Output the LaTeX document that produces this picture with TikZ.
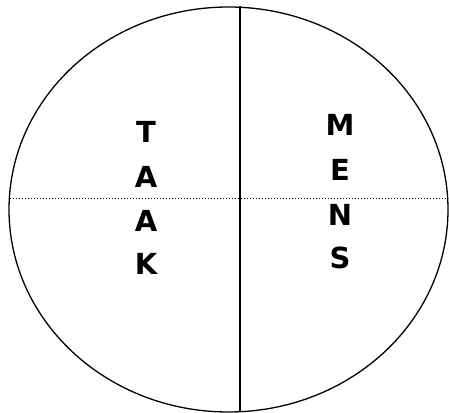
\documentclass[tikz,border=0pt]{standalone}
\usepackage{fontspec}
\setmainfont{DejaVu Sans}
\usetikzlibrary{shapes.geometric}
\begin{document}
\begin{tikzpicture}[x=1pt,y=1pt,
  letter/.style={font=\bfseries\fontsize{29}{30}\selectfont, inner sep=0pt, anchor=center},
  outline/.style={draw=black, line width=1.3pt},
  divider/.style={draw=black, line width=1.5pt},
  dotline/.style={draw=black, line width=0.8pt, dash pattern=on 1pt off 2pt}]
\useasboundingbox (0,0) rectangle (449,412);
\node[outline, ellipse, minimum width=439pt, minimum height=405pt, inner sep=0pt] (ell) at (228.5,202.5) {};
\coordinate (vtop) at (240,405.5);
\coordinate (vbot) at (240,0);
\coordinate (hl) at (9.5,214);
\coordinate (hr) at (447.5,214);
\draw[dotline] (hl) -- (hr);
\draw[divider] (vtop) -- (vbot);
\node[letter] (t1) at (146,280) {T};
\node[letter] (t2) at (146,235) {A};
\node[letter] (t3) at (146,191) {A};
\node[letter] (t4) at (146,148) {K};
\node[letter] (m1) at (340,287) {M};
\node[letter] (m2) at (340,242) {E};
\node[letter] (m3) at (340,197) {N};
\node[letter] (m4) at (340,154) {S};
\end{tikzpicture}
\end{document}
